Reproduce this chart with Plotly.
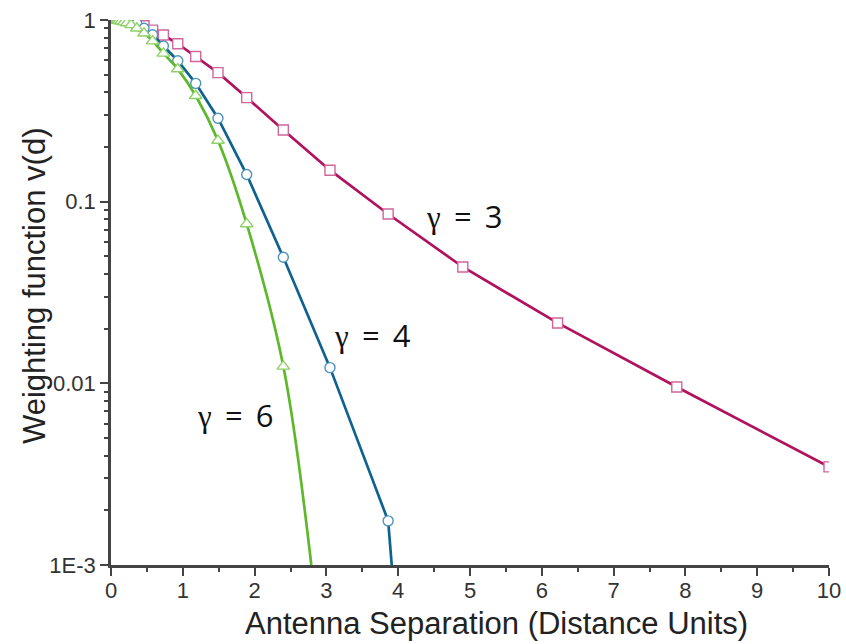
import math
import plotly.graph_objects as go

# ---- data ----
# gamma = 3 (magenta squares)
d_g3 = [0.28, 0.36, 0.46, 0.58, 0.73, 0.93, 1.18, 1.49, 1.89, 2.40, 3.05, 3.86, 4.90, 6.22, 7.88, 10.0]
v_g3 = [0.975, 0.955, 0.93, 0.88, 0.827, 0.74, 0.63, 0.513, 0.374, 0.248, 0.149, 0.0855, 0.0437, 0.0215, 0.00955, 0.00347]

# gamma = 4 (blue circles)
d_g4 = [0.22, 0.28, 0.36, 0.46, 0.58, 0.73, 0.93, 1.18, 1.49, 1.89, 2.40, 3.05, 3.86]
v_g4 = [0.985, 0.975, 0.955, 0.90, 0.83, 0.719, 0.597, 0.448, 0.288, 0.141, 0.0494, 0.0122, 0.00175]

# gamma = 6 (green triangles)
d_g6 = [0.04, 0.05, 0.07, 0.09, 0.11, 0.14, 0.18, 0.22, 0.28, 0.36, 0.46, 0.58, 0.73, 0.93, 1.18, 1.49, 1.89, 2.40]
v_g6 = [0.999, 0.998, 0.996, 0.993, 0.99, 0.984, 0.974, 0.962, 0.94, 0.90, 0.845, 0.765, 0.655, 0.537, 0.383, 0.217, 0.0754, 0.0124]

# where the curves leave the plot through the bottom axis
end_d_g4, end_v_g4 = 3.91, 0.001
end_d_g6, end_v_g6 = 2.79, 0.001

x_ticks = [0, 1, 2, 3, 4, 5, 6, 7, 8, 9, 10]
y_ticks = [0.001, 0.01, 0.1, 1]
y_ticktext = ["1E-3", "0.01", "0.1", "1"]
y_minor = [m * 10 ** e for e in (-3, -2, -1) for m in range(2, 10)]

labels = [("γ", "3", 4.92, 0.0834), ("γ", "4", 3.64, 0.0185), ("γ", "6", 1.73, 0.0067)]

series = [
    (d_g3, v_g3, None, None, "#B0125E", "#D0669A", "square", 10, "linear"),
    (d_g4, v_g4, end_d_g4, end_v_g4, "#0E6290", "#4F93BD", "circle", 10, "linear"),
    (d_g6, v_g6, end_d_g6, end_v_g6, "#5DB82B", "#8FD067", "triangle-up", 11, "spline"),
]

fig = go.Figure()
for d, v, ed, ev, lc, mc, sym, ms, shape in series:
    xl = list(d) + ([ed] if ed is not None else [])
    yl = list(v) + ([ev] if ev is not None else [])
    fig.add_trace(go.Scatter(x=xl, y=yl, mode="lines", line=dict(color=lc, width=2.7, shape=shape, smoothing=1.0),
                             showlegend=False, hoverinfo="skip"))
    fig.add_trace(go.Scatter(x=d, y=v, mode="markers",
                             marker=dict(symbol=sym, size=ms, color="white", line=dict(color=mc, width=1.4)),
                             showlegend=False))

FONT = "Liberation Sans, Arial, sans-serif"
tick_font = dict(family=FONT, size=22, color="#333")
title_font = dict(family=FONT, size=31, color="#222")

sp = " \u2009"
for g, num, x, y in labels:
    # annotation y on a log axis is given in log10 units
    fig.add_annotation(x=x, y=math.log10(y), yref="y", xref="x",
                       text=f'<span style="font-family:Liberation Serif">{g}</span>{sp}={sp}{num}',
                       showarrow=False, font=dict(family="Open Sans, sans-serif", size=31, color="#111"))

# axis titles
fig.add_annotation(xref="paper", yref="paper", x=0.537, y=-0.108, text="Antenna Separation (Distance Units)",
                   showarrow=False, xanchor="center", yanchor="middle", font=title_font)
fig.add_annotation(xref="paper", yref="paper", x=-0.1058, y=0.512, text="Weighting function v(d)",
                   showarrow=False, xanchor="center", yanchor="middle", textangle=-90, font=title_font)

axis_col = "#444"
fig.update_layout(
    width=846, height=644,
    margin=dict(l=111, r=17, t=20, b=79),
    plot_bgcolor="white", paper_bgcolor="white",
    xaxis=dict(range=[0, 10], tickvals=x_ticks, ticks="outside", ticklen=8, tickwidth=2, tickcolor=axis_col,
               showline=True, linecolor=axis_col, linewidth=2.5, showgrid=False, zeroline=False, automargin=False,
               ticklabelstandoff=-4,
               tickfont=tick_font, minor=dict(ticks="outside", ticklen=4, tickwidth=2, tickcolor=axis_col, dtick=0.5, showgrid=False)),
    yaxis=dict(type="log", range=[-3, 0], tickvals=y_ticks, ticktext=y_ticktext, ticks="outside", ticklen=8,
               tickwidth=2, tickcolor=axis_col, showline=True, linecolor=axis_col, linewidth=2.5, showgrid=False,
               zeroline=False, tickfont=tick_font, automargin=False,
               minor=dict(ticks="outside", ticklen=4, tickwidth=2, tickcolor=axis_col, tickvals=y_minor, showgrid=False)),
)

fig.write_html("out.html")
